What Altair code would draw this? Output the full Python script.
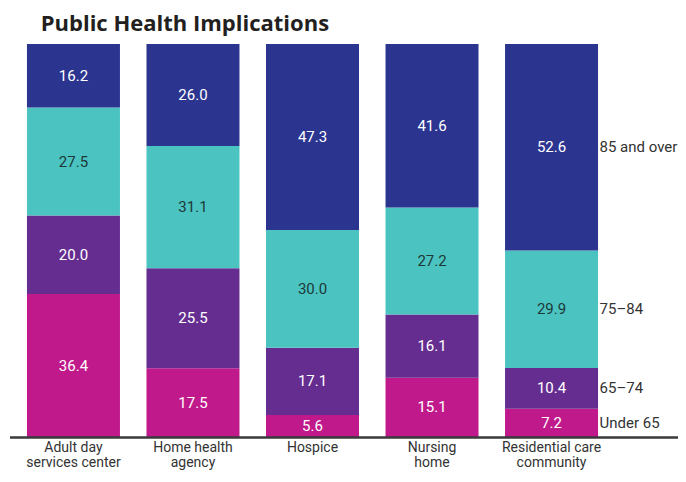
import altair as alt
import pandas as pd

categories = ["Adult day|services center", "Home health|agency", "Hospice", "Nursing|home", "Residential care|community"]
groups = ["Under 65", "65–74", "75–84", "85 and over"]
under65 = [36.4, 17.5, 5.6, 15.1, 7.2]
age65_74 = [20.0, 25.5, 17.1, 16.1, 10.4]
age75_84 = [27.5, 31.1, 30.0, 27.2, 29.9]
age85 = [16.2, 26.0, 47.3, 41.6, 52.6]
colors = ["#c0198b", "#662d91", "#4bc4c1", "#2b3590"]

rows = []
for gi, (g, vals) in enumerate(zip(groups, [under65, age65_74, age75_84, age85])):
    for c, v in zip(categories, vals):
        rows.append({"category": c, "group": g, "order": gi, "value": v,
                     "label": f"{v:.1f}"})
df = pd.DataFrame(rows)

W, H = 605, 393
FONT = "Roboto"

base = alt.Chart(df).transform_stack(
    stack="value", groupby=["category"], as_=["y0", "y1"],
    sort=[alt.SortField("order", order="ascending")], offset="normalize"
).transform_calculate(mid="(datum.y0 + datum.y1) / 2")

xenc = alt.X("category:N", sort=categories,
             scale=alt.Scale(paddingInner=0.222, paddingOuter=0.142),
             axis=alt.Axis(title=None, labelExpr="split(datum.value, '|')",
                           labelFont=FONT, labelFontSize=14,
                           labelColor="#333333", labelAngle=0, domain=False,
                           ticks=False, labelPadding=3, labelLineHeight=15))
yscale = alt.Scale(domain=[0, 1])

bars = base.mark_bar().encode(
    x=xenc,
    y=alt.Y("y1:Q", scale=yscale, axis=None),
    y2="y0:Q",
    color=alt.Color("group:N", scale=alt.Scale(domain=groups, range=colors), legend=None),
)

labels = base.mark_text(font=FONT, fontSize=15).encode(
    x=alt.X("category:N", sort=categories),
    y=alt.Y("mid:Q", scale=yscale),
    text="label:N",
    color=alt.condition(alt.datum.group == "75–84", alt.value("#1d3838"), alt.value("#ffffff")),
)

side = base.transform_filter(alt.datum.category == categories[-1]).mark_text(
    align="left", dx=48, font=FONT, fontSize=15, color="#333333"
).encode(
    x=alt.X("category:N", sort=categories),
    y=alt.Y("mid:Q", scale=yscale),
    text="group:N",
)

baseline = alt.Chart(pd.DataFrame({"a": [0]})).mark_rule(color="#3a3a3a", strokeWidth=2.5).encode(
    x=alt.value(0), x2=alt.value(668), y=alt.value(H + 0.5)
)

chart = alt.layer(bars, labels, side, baseline).properties(
    width=W, height=H,
    autosize=alt.AutoSizeParams(type="none"),
    padding={"left": 2, "top": 36, "right": 63, "bottom": 33},
    title=alt.Title("Public Health Implications", anchor="start", dx=32, offset=8,
                    font="Open Sans", fontSize=22, fontWeight="bold", color="#231f20"),
).configure_view(stroke=None)

chart.save("out.html", embed_options={"renderer": "svg", "actions": False})
